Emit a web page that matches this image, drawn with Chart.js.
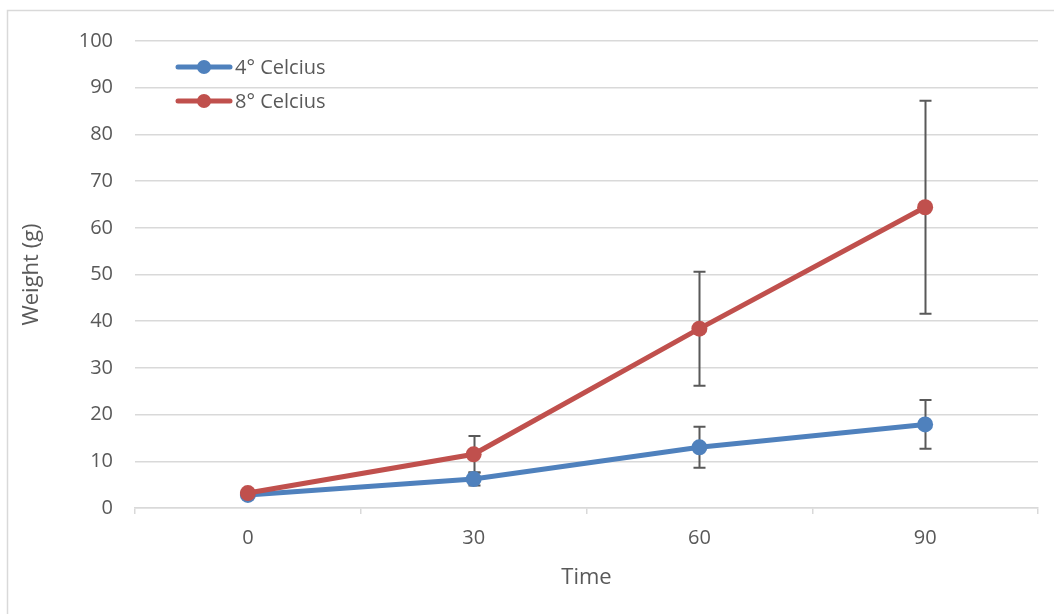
<!DOCTYPE html>
<html>
<head>
<meta charset="utf-8">
<script src="https://cdn.jsdelivr.net/npm/chart.js@4"></script>
<style>
  html, body { margin: 0; padding: 0; background: #fff; }
  #wrap { width: 1054px; height: 614px; }
</style>
</head>
<body>
<div id="wrap"><canvas id="weightChart" width="1054" height="614"></canvas></div>
<script>
const times = ['0', '30', '60', '90'];
const seriesNames = ['4° Celcius', '8° Celcius'];
const coldWeight = [2.8, 6.2, 13.0, 17.9];
const coldError = [0, 1.4, 4.4, 5.2];
const warmWeight = [3.2, 11.5, 38.4, 64.4];
const warmError = [0, 3.9, 12.2, 22.8];
const weightTicks = [0, 10, 20, 30, 40, 50, 60, 70, 80, 90, 100];

const BLUE = '#4f81bd';
const RED = '#c0504d';
const TEXT = '#595959';
const GRID = '#d9d9d9';
const FONT = '"Open Sans", "Noto Sans", sans-serif';

// light frame round the whole chart
const framePlugin = {
    id: 'frame',
    beforeDraw(chart) {
        const ctx = chart.ctx;
        ctx.save();
        ctx.fillStyle = '#fff';
        ctx.fillRect(0, 0, chart.width, chart.height);
        ctx.strokeStyle = GRID;
        ctx.lineWidth = 1.5;
        ctx.strokeRect(7.5, 10.5, chart.width + 20, chart.height + 20);
        ctx.restore();
    }
};

// vertical error bars with caps, drawn under the markers
const errorBarPlugin = {
    id: 'errorBars',
    beforeDatasetsDraw(chart) {
        const ctx = chart.ctx;
        const x = chart.scales.x;
        const y = chart.scales.y;
        const sets = [[coldWeight, coldError], [warmWeight, warmError]];
        ctx.save();
        ctx.strokeStyle = TEXT;
        ctx.lineWidth = 2;
        sets.forEach(([vals, errs]) => {
            vals.forEach((v, i) => {
                if (!errs[i]) return;
                const px = Math.round(x.getPixelForValue(i)) + 0.5;
                const top = y.getPixelForValue(v + errs[i]);
                const bot = y.getPixelForValue(v - errs[i]);
                ctx.beginPath();
                ctx.moveTo(px, top);
                ctx.lineTo(px, bot);
                ctx.moveTo(px - 6, top);
                ctx.lineTo(px + 6, top);
                ctx.moveTo(px - 6, bot);
                ctx.lineTo(px + 6, bot);
                ctx.stroke();
            });
        });
        ctx.restore();
    }
};

// legend sits inside the plot, top-left
const legendPlugin = {
    id: 'insideLegend',
    afterDraw(chart) {
        const ctx = chart.ctx;
        const items = [[seriesNames[0], BLUE], [seriesNames[1], RED]];
        ctx.save();
        ctx.font = '20px ' + FONT;
        ctx.textBaseline = 'middle';
        items.forEach(([label, color], i) => {
            const yy = 67 + i * 34;
            ctx.strokeStyle = color;
            ctx.lineWidth = 5;
            ctx.lineCap = 'round';
            ctx.beginPath();
            ctx.moveTo(178, yy);
            ctx.lineTo(230, yy);
            ctx.stroke();
            ctx.fillStyle = color;
            ctx.beginPath();
            ctx.arc(204, yy, 7, 0, Math.PI * 2);
            ctx.fill();
            ctx.fillStyle = TEXT;
            ctx.fillText(label, 235, yy + 1);
        });
        ctx.restore();
    }
};

const ctx = document.getElementById('weightChart').getContext('2d');
new Chart(ctx, {
    type: 'line',
    data: {
        labels: times,
        datasets: [
            {
                label: seriesNames[0], data: coldWeight, order: 1,
                borderColor: BLUE, backgroundColor: BLUE, borderWidth: 5,
                pointRadius: 8, pointHoverRadius: 8, pointBorderWidth: 0, tension: 0
            },
            {
                label: seriesNames[1], data: warmWeight, order: 0,
                borderColor: RED, backgroundColor: RED, borderWidth: 5,
                pointRadius: 8, pointHoverRadius: 8, pointBorderWidth: 0, tension: 0
            }
        ]
    },
    options: {
        responsive: false,
        animation: false,
        layout: { padding: { top: 41, right: 16, left: 0, bottom: 0 } },
        plugins: { legend: { display: false }, tooltip: { enabled: false } },
        scales: {
            x: {
                offset: true,
                afterFit(scale) { scale.height = 106; },
                grid: { offset: true, drawOnChartArea: false, drawTicks: true, tickLength: 6, color: GRID, lineWidth: 1.5 },
                border: { color: GRID, width: 1.5 },
                ticks: { color: TEXT, font: { family: FONT, size: 20 }, padding: 12, maxRotation: 0 },
                title: { display: true, text: 'Time', color: TEXT, font: { family: FONT, size: 22 }, padding: { top: 0, bottom: 23 } }
            },
            y: {
                min: 0, max: 100,
                afterFit(scale) { scale.width = 135; },
                afterBuildTicks(scale) { scale.ticks = weightTicks.map(v => ({ value: v })); },
                grid: { color: GRID, lineWidth: 1.5, drawTicks: false },
                border: { display: false },
                ticks: { color: TEXT, font: { family: FONT, size: 20 }, padding: 22 },
                title: { display: true, text: 'Weight (g)', color: TEXT, font: { family: FONT, size: 22 }, padding: { top: 19, bottom: 0 } }
            }
        }
    },
    plugins: [framePlugin, errorBarPlugin, legendPlugin]
});
</script>
</body>
</html>
